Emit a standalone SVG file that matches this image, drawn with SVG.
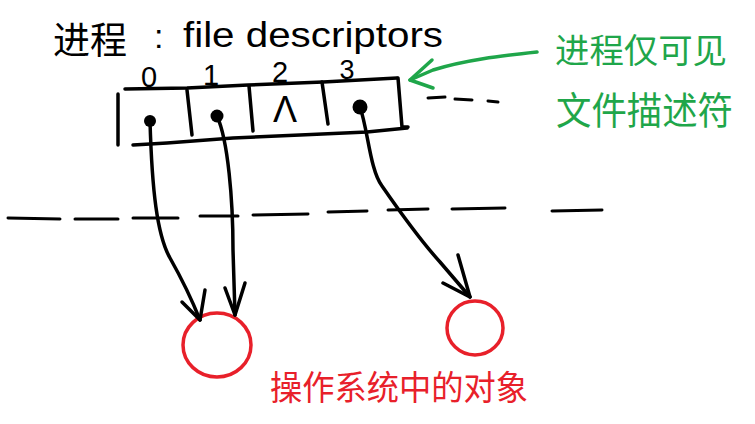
<svg xmlns="http://www.w3.org/2000/svg" width="755" height="424" viewBox="0 0 755 424">
<style>
.ink{fill:none;stroke:#000;stroke-width:3.5;stroke-linecap:round;stroke-linejoin:round}
.dash{fill:none;stroke:#000;stroke-width:3;stroke-linecap:round}
.red{fill:none;stroke:#e8202a;stroke-width:3.5}
.green{fill:none;stroke:#1fa64a;stroke-width:3.5;stroke-linecap:round;stroke-linejoin:round}
.t{font-family:"Liberation Sans","Noto Sans CJK SC",sans-serif}
.cn{font-family:"Noto Sans CJK SC",sans-serif}
</style>
<rect width="755" height="424" fill="#fff"/>

<g id="title">
<text class="cn" x="53" y="54" font-size="37" fill="#000">进程</text>
<text class="t" x="154" y="48" font-size="34" fill="#000">:</text>
<text class="t" x="183" y="47" font-size="35" fill="#000" textLength="260" lengthAdjust="spacingAndGlyphs">file descriptors</text>
</g>

<g id="fd-table">
<text class="t" x="149" y="87" font-size="29" text-anchor="middle">0</text>
<text class="t" x="211" y="85" font-size="29" text-anchor="middle">1</text>
<text class="t" x="280" y="82" font-size="29" text-anchor="middle">2</text>
<text class="t" x="347" y="79" font-size="27" text-anchor="middle">3</text>
<path class="ink" d="M125,89 L187,88 L248,85 L323,82 L397,78"/>
<path class="ink" d="M398,78 L402,127 L408,127"/>
<path class="ink" d="M118,94 L118,145"/>
<path class="ink" d="M133,145 L167,143 L233,138 L300,135 L367,132 L407,128"/>
<path class="ink" d="M187,90 L192,135"/>
<path class="ink" d="M249,86 L253,131"/>
<path class="ink" d="M322,82 L328,124"/>
<circle cx="150" cy="121" r="6"/>
<circle cx="217" cy="116" r="6.5"/>
<circle cx="360" cy="107" r="7.5"/>
<text class="t" x="285" y="122" font-size="36" text-anchor="middle">Λ</text>
<path class="dash" d="M428,98 L445,97 M455,99 L472,100 M488,101 L498,102"/>
</g>

<g id="boundary">
<path class="dash" d="M8,218 L60,219 M75,219 L118,219 M133,218 L178,218 M200,216 L238,216 M253,215 L308,214 M328,212 L367,211 M388,210 L428,209 M452,209 L505,208 M552,211 L602,210"/>
</g>

<g id="object-1">
<ellipse class="red" cx="217" cy="345" rx="34" ry="32"/>
</g>
<g id="object-2">
<ellipse class="red" cx="475" cy="328" rx="28" ry="27"/>
</g>

<g id="note">
<text class="cn" x="555" y="63" font-size="34" fill="#1fa64a" textLength="172" lengthAdjust="spacingAndGlyphs">进程仅可见</text>
<text class="cn" x="556" y="124" font-size="38" fill="#1fa64a" textLength="177" lengthAdjust="spacingAndGlyphs">文件描述符</text>
</g>

<g id="os-label">
<text class="cn" x="270" y="400" font-size="34" fill="#e8202a" textLength="258" lengthAdjust="spacingAndGlyphs">操作系统中的对象</text>
</g>

<g id="connectors">
<path class="ink" d="M150,121 C152,190 157,235 170,258 S192,300 200,320"/>
<path class="ink" d="M182,302 L200,320 L205,290"/>
<path class="ink" d="M217,116 C228,140 233,200 233,250 L235,315"/>
<path class="ink" d="M225,288 L235,315 L245,283"/>
<path class="ink" d="M360,107 C368,130 370,170 382,186 C400,212 420,240 440,262 L470,297"/>
<path class="ink" d="M443,283 L470,297 L458,255"/>
<path class="green" d="M537,52 C500,56 465,60 433,70 L410,80"/>
<path class="green" d="M432,60 L410,80 L433,88"/>
</g>
</svg>
